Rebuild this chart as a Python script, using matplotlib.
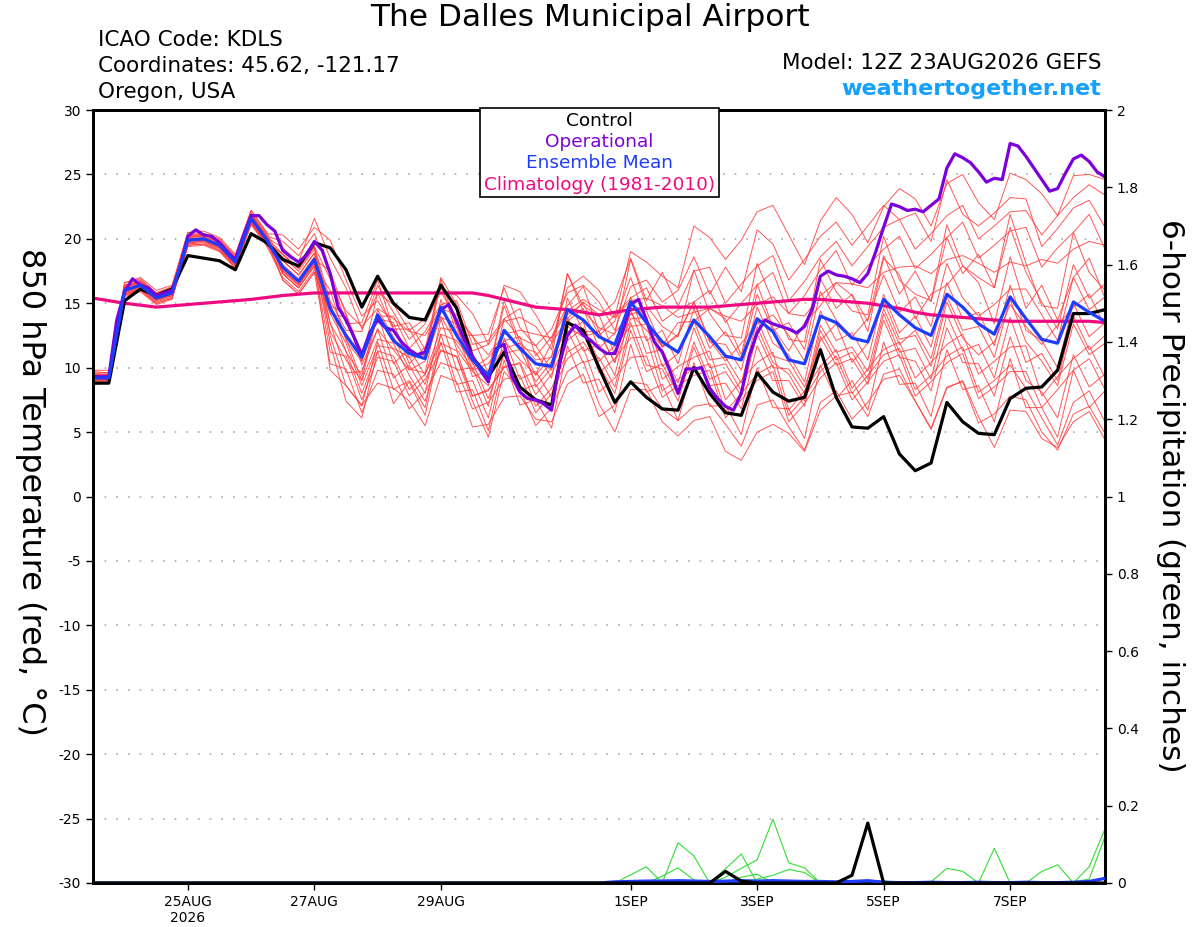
import matplotlib
matplotlib.use('Agg')
import matplotlib.pyplot as plt
from matplotlib.patches import Rectangle
import numpy as np
import pandas as pd

plt.rcParams['font.family'] = ['DejaVu Sans']

# 6-hourly GEFS times, operational run is 3-hourly
times = pd.date_range('2026-08-23 12:00', periods=65, freq='6h')
times_op = pd.date_range('2026-08-23 12:00', periods=129, freq='3h')

# 850 hPa temperature (C)
control = [8.8, 8.8, 15.2, 16.1, 15.6, 16.1, 18.7, 18.5, 18.3, 17.6,
           20.4, 19.7, 18.4, 17.9, 19.7, 19.3, 17.6, 14.7, 17.1, 15.0,
           13.9, 13.7, 16.4, 14.6, 10.8, 9.3, 11.2, 8.5, 7.5, 7.1,
           13.5, 12.9, 10.0, 7.3, 8.9, 7.7, 6.8, 6.7, 10.0, 8.0,
           6.5, 6.3, 9.6, 8.1, 7.4, 7.7, 11.4, 7.7, 5.4, 5.3,
           6.2, 3.3, 2.0, 2.6, 7.3, 5.8, 4.9, 4.8, 7.6, 8.4,
           8.5, 9.8, 14.2, 14.2, 14.5]

operational = [9.3, 9.3, 9.3, 13.7, 15.9, 16.9, 16.4, 16.2, 15.6, 15.8, 16.0, 17.8, 20.2, 20.7, 20.3, 20.2,
               19.7, 19.0, 18.4, 20.2, 21.8, 21.8, 21.1, 20.6, 19.1, 18.6, 18.2, 18.7, 19.8, 19.1, 17.3,
               14.7, 13.7, 12.4, 11.0, 12.7, 13.7, 13.1, 12.9, 12.0, 11.4, 11.0, 11.2, 12.9, 14.5, 14.9, 13.6,
               12.1, 10.9, 9.8, 8.9, 11.5, 11.8, 9.3, 8.1, 7.6, 7.5, 7.2, 6.7, 10.3, 12.5, 13.3, 12.5,
               12.1, 11.5, 11.1, 11.1, 12.8, 14.9, 15.3, 13.7, 12.0, 11.2, 9.7, 8.0, 9.9, 9.9, 10.0, 8.4,
               7.6, 7.0, 6.7, 8.0, 10.9, 12.7, 13.7, 13.4, 13.2, 13.0, 12.7, 13.2, 14.6, 17.1, 17.5, 17.2,
               17.1, 16.9, 16.6, 17.3, 19.0, 20.9, 22.7, 22.5, 22.2, 22.3, 22.1, 22.6, 23.1, 25.5, 26.6, 26.3,
               25.9, 25.2, 24.4, 24.7, 24.6, 27.4, 27.2, 26.4, 25.5, 24.6, 23.7, 23.9, 25.1, 26.2, 26.5, 26.0,
               25.2, 24.8]

ens_mean = [9.2, 9.2, 16.0, 16.4, 15.4, 15.8, 19.9, 20.0, 19.5, 18.2,
            21.6, 19.9, 17.8, 16.7, 18.4, 14.6, 12.5, 10.8, 14.1, 12.1,
            11.1, 10.7, 14.7, 12.5, 10.6, 9.4, 12.9, 11.5, 10.3, 10.1,
            14.5, 13.7, 12.4, 11.8, 15.1, 13.5, 12.0, 11.2, 13.7, 12.4,
            10.9, 10.6, 13.8, 12.8, 10.6, 10.3, 14.0, 13.5, 12.3, 12.0,
            15.3, 14.1, 13.1, 12.5, 15.7, 14.7, 13.4, 12.6, 15.5, 13.8,
            12.2, 11.9, 15.1, 14.3, 13.6]

climo = [15.4, 15.2, 15.0, 14.85, 14.7, 14.8, 14.9, 15.0, 15.1, 15.2,
         15.3, 15.45, 15.6, 15.7, 15.8, 15.8, 15.8, 15.8, 15.8, 15.8,
         15.8, 15.8, 15.8, 15.8, 15.8, 15.6, 15.3, 15.0, 14.7, 14.6,
         14.5, 14.3, 14.1, 14.3, 14.5, 14.6, 14.7, 14.7, 14.7, 14.7,
         14.8, 14.9, 15.0, 15.1, 15.2, 15.3, 15.3, 15.2, 15.1, 15.0,
         14.8, 14.6, 14.3, 14.1, 14.0, 13.9, 13.8, 13.7, 13.6, 13.6,
         13.6, 13.6, 13.6, 13.6, 13.5]

# ensemble members (red)
mem01 = [9.5, 9.4, 16.4, 16.6, 15.7, 16.2, 20.1, 20.4, 19.8, 18.4, 22.0, 20.1, 19.3, 18.2, 21.6,
         18.5, 16.2, 13.0, 15.8, 14.9, 12.9, 13.8, 16.1, 15.6, 14.2, 11.8, 16.4, 15.9, 14.1, 12.0, 16.2, 17.1,
         16.0, 13.9, 19.0, 18.2, 17.1, 16.2, 21.0, 20.1, 18.4, 19.9, 22.1, 22.6, 20.3, 18.0, 21.4, 23.2,
         21.9, 19.7, 22.5, 23.9, 23.1, 21.0, 24.3, 25.0, 22.8, 21.5, 25.1, 24.6, 23.5, 21.8, 24.9, 25.0, 24.6]
mem02 = [9.0, 9.1, 15.7, 16.1, 15.3, 15.6, 19.6, 19.9, 19.3, 18.0, 21.3, 19.8, 18.8, 17.7, 19.4,
         15.2, 12.9, 12.8, 16.4, 14.3, 12.2, 13.4, 15.9, 13.8, 12.5, 12.6, 16.2, 13.1, 11.7, 13.0, 15.8, 16.4,
         15.1, 12.9, 16.3, 16.8, 15.1, 16.0, 18.6, 15.7, 17.8, 15.9, 20.7, 19.6, 16.8, 18.4, 20.2, 21.3,
         19.5, 21.0, 22.6, 21.5, 22.0, 19.8, 24.6, 21.9, 21.0, 22.0, 23.2, 23.1, 19.4, 20.8, 22.4, 23.0, 20.9]
mem03 = [9.7, 9.6, 16.6, 16.9, 15.8, 16.3, 20.5, 20.4, 20.0, 18.7, 22.2, 20.4, 20.3, 19.2, 20.9,
         19.9, 16.8, 14.0, 15.2, 13.2, 13.5, 11.4, 17.0, 14.9, 11.3, 11.8, 13.6, 13.9, 13.2, 11.4, 17.3, 14.8,
         14.0, 15.1, 18.5, 15.2, 17.4, 14.8, 17.5, 17.8, 15.0, 16.5, 17.9, 18.7, 15.2, 16.7, 18.6, 19.8,
         17.9, 19.4, 20.9, 21.5, 19.2, 20.4, 21.8, 22.6, 20.0, 21.0, 22.1, 22.2, 20.3, 21.8, 23.2, 24.2, 23.4]
mem04 = [9.2, 9.3, 16.1, 16.3, 15.5, 15.7, 19.8, 20.1, 19.4, 18.3, 21.5, 20.0, 18.3, 17.2, 18.9,
         14.8, 14.2, 11.0, 14.0, 14.0, 11.5, 12.8, 14.9, 15.2, 11.8, 12.1, 13.8, 14.6, 10.9, 12.4, 14.8, 16.3,
         12.8, 14.1, 15.4, 16.2, 13.6, 14.5, 15.1, 16.0, 13.5, 15.0, 16.4, 17.4, 14.2, 15.6, 17.6, 19.1,
         16.4, 17.9, 19.2, 20.2, 17.7, 18.8, 20.1, 21.3, 18.5, 19.5, 20.6, 20.9, 17.8, 19.3, 20.5, 21.9, 19.2]
mem05 = [8.9, 8.8, 15.6, 16.0, 15.0, 15.4, 19.5, 19.6, 19.1, 17.8, 21.2, 19.5, 17.3, 16.2, 17.9,
         16.0, 12.1, 10.5, 15.8, 12.9, 10.8, 11.0, 16.9, 13.1, 10.3, 9.6, 15.2, 12.0, 10.6, 10.8, 17.3, 14.4,
         13.1, 12.6, 18.4, 14.8, 13.2, 12.4, 17.6, 14.2, 12.5, 12.3, 18.1, 15.1, 12.2, 12.0, 18.4, 15.9,
         14.4, 14.1, 20.2, 16.8, 15.7, 15.2, 21.1, 17.9, 17.0, 16.2, 21.9, 18.1, 14.8, 14.6, 20.5, 17.4, 16.0]
mem06 = [9.4, 9.4, 16.2, 16.6, 15.6, 16.0, 20.1, 20.2, 19.7, 18.4, 21.8, 20.1, 18.8, 17.7, 19.4,
         16.9, 14.4, 13.2, 14.6, 13.8, 12.8, 12.5, 14.6, 14.1, 12.4, 11.0, 12.6, 12.9, 12.6, 12.3, 14.4, 15.3,
         14.5, 13.9, 15.2, 15.4, 14.8, 13.9, 14.3, 14.6, 14.0, 13.6, 14.9, 15.5, 14.2, 14.0, 15.6, 16.6,
         16.5, 16.2, 17.4, 17.8, 17.9, 17.3, 18.4, 18.7, 18.1, 17.4, 18.2, 17.9, 18.4, 18.1, 19.2, 19.8, 19.5]
mem07 = [9.8, 9.8, 16.6, 17.0, 16.0, 16.4, 20.5, 20.6, 20.1, 18.8, 22.2, 20.5, 17.8, 16.7, 18.4,
         17.5, 14.1, 10.2, 13.0, 11.4, 9.8, 10.5, 14.0, 11.8, 9.9, 10.8, 12.1, 10.6, 9.5, 11.9, 13.8, 15.1,
         14.1, 11.0, 14.2, 12.9, 11.7, 13.5, 13.6, 14.6, 13.8, 11.0, 16.5, 13.1, 11.3, 13.5, 14.8, 16.6,
         15.6, 12.8, 18.5, 17.2, 13.8, 15.7, 16.4, 17.9, 16.6, 13.4, 18.6, 14.6, 16.4, 13.7, 17.0, 18.5, 15.4]
mem08 = [8.7, 8.8, 15.5, 15.9, 14.9, 15.3, 19.4, 19.5, 19.0, 17.7, 21.1, 19.4, 17.0, 15.9, 17.6,
         15.0, 11.2, 9.4, 14.5, 12.4, 9.9, 9.6, 15.3, 11.4, 9.7, 8.6, 13.8, 12.3, 11.7, 9.8, 14.1, 15.0,
         12.5, 13.6, 17.0, 13.7, 11.6, 12.5, 15.1, 12.1, 10.5, 11.9, 13.4, 14.1, 12.5, 10.5, 15.9, 13.7,
         12.4, 13.8, 17.2, 14.3, 15.5, 13.2, 18.1, 15.4, 14.0, 14.9, 16.1, 16.1, 14.1, 12.1, 17.0, 14.5, 15.5]
mem09 = [9.5, 9.5, 16.3, 16.7, 15.7, 16.1, 20.2, 20.3, 19.8, 18.5, 21.9, 20.2, 17.3, 16.2, 17.9,
         12.8, 10.6, 9.0, 14.2, 10.3, 11.5, 9.4, 13.1, 12.8, 9.3, 9.8, 11.5, 11.9, 9.4, 10.9, 13.6, 14.6,
         11.5, 12.7, 14.2, 14.4, 11.6, 12.6, 15.1, 12.0, 11.8, 9.8, 14.7, 11.9, 11.0, 8.9, 14.4, 12.1,
         12.7, 10.6, 15.7, 12.7, 14.0, 11.6, 16.6, 13.8, 14.3, 11.7, 16.4, 12.9, 12.1, 10.0, 15.0, 12.4, 13.5]
mem10 = [9.1, 9.1, 15.9, 16.3, 15.3, 15.7, 19.8, 19.9, 19.4, 18.1, 21.5, 19.8, 16.8, 15.7, 17.4,
         14.2, 11.9, 8.6, 11.7, 11.5, 10.8, 8.7, 12.6, 12.1, 10.4, 7.6, 11.1, 11.4, 8.9, 10.5, 13.2, 12.4,
         12.8, 10.4, 13.8, 13.9, 10.1, 11.1, 13.6, 10.6, 10.8, 8.8, 13.7, 10.9, 10.5, 8.5, 12.1, 13.4,
         10.4, 11.9, 15.2, 12.2, 12.5, 10.1, 15.1, 12.3, 11.0, 12.0, 14.9, 13.2, 11.8, 13.3, 14.7, 15.7, 13.2]
mem11 = [8.9, 8.9, 15.7, 16.1, 15.1, 15.5, 19.6, 19.7, 19.2, 17.9, 21.3, 19.6, 18.3, 17.2, 18.9,
         13.5, 9.6, 9.7, 13.0, 9.2, 10.2, 8.0, 13.8, 9.8, 10.0, 7.0, 12.3, 9.1, 9.7, 7.7, 13.9, 11.3,
         11.8, 9.4, 14.5, 11.1, 11.4, 8.8, 13.1, 10.0, 10.3, 8.2, 13.2, 10.4, 9.5, 7.4, 12.9, 10.6,
         11.2, 9.1, 14.2, 11.2, 11.5, 9.1, 14.1, 11.3, 11.8, 9.2, 13.9, 10.4, 11.1, 9.0, 14.0, 11.4, 12.5]
mem12 = [9.6, 9.6, 16.4, 16.8, 15.8, 16.2, 20.3, 20.4, 19.9, 18.6, 22.0, 20.3, 17.3, 16.2, 17.9,
         11.2, 10.9, 7.5, 10.8, 10.5, 7.8, 9.1, 11.3, 10.9, 7.8, 8.3, 10.0, 10.4, 7.9, 9.5, 12.1, 13.1,
         10.5, 11.7, 13.2, 13.4, 9.1, 10.1, 10.8, 11.3, 7.5, 9.0, 10.4, 11.2, 6.7, 8.2, 10.1, 11.4,
         8.4, 9.9, 11.4, 12.0, 9.2, 10.4, 11.8, 12.6, 9.5, 10.5, 11.6, 11.7, 7.8, 9.3, 10.7, 11.7, 9.2]
mem13 = [9.0, 9.0, 15.8, 16.2, 15.2, 15.6, 19.7, 19.8, 19.3, 18.0, 21.4, 19.7, 18.8, 17.7, 19.4,
         12.5, 8.6, 7.0, 12.0, 8.3, 9.0, 6.9, 12.6, 8.7, 9.0, 6.1, 11.3, 8.2, 8.7, 6.8, 12.9, 10.4,
         10.8, 8.5, 13.5, 10.2, 9.9, 7.4, 11.6, 8.6, 8.8, 6.8, 11.7, 9.0, 9.0, 7.0, 12.4, 10.2,
         10.7, 8.7, 13.7, 10.8, 10.5, 8.2, 13.1, 10.4, 10.3, 7.8, 12.4, 9.0, 8.1, 6.1, 11.0, 8.5, 9.5]
mem14 = [9.3, 9.3, 16.1, 16.5, 15.5, 15.9, 20.0, 20.1, 19.6, 18.3, 21.7, 20.0, 16.8, 15.7, 17.4,
         10.3, 9.9, 6.5, 9.8, 9.5, 6.8, 8.1, 10.4, 9.9, 6.8, 7.3, 9.1, 9.4, 6.5, 8.0, 10.7, 11.6,
         8.1, 9.2, 10.8, 10.9, 7.7, 8.6, 9.4, 9.8, 6.1, 7.5, 9.0, 9.7, 5.8, 7.2, 9.2, 10.4,
         7.5, 8.9, 10.5, 11.0, 7.8, 8.9, 10.4, 11.1, 7.6, 8.5, 9.7, 9.7, 6.9, 8.3, 9.8, 10.7, 8.3]
mem15 = [9.1, 9.1, 15.9, 16.3, 15.3, 15.7, 19.8, 19.9, 19.4, 18.1, 21.5, 19.8, 18.0, 16.9, 18.6,
         11.9, 7.4, 6.1, 11.3, 7.2, 8.9, 6.3, 12.0, 8.1, 8.3, 5.1, 10.6, 7.1, 7.5, 5.3, 11.7, 8.8,
         9.1, 6.5, 11.8, 8.1, 8.7, 5.9, 10.4, 7.0, 7.1, 4.8, 10.0, 6.9, 6.8, 4.5, 10.2, 7.6,
         9.0, 6.7, 12.0, 8.7, 8.8, 6.2, 11.4, 8.3, 8.6, 5.8, 10.7, 6.9, 6.9, 4.6, 9.8, 6.9, 8.2]
mem16 = [9.4, 9.4, 16.2, 16.6, 15.6, 16.0, 20.1, 20.2, 19.7, 18.4, 21.8, 20.1, 17.5, 16.4, 18.1,
         9.8, 8.6, 7.1, 8.8, 8.4, 7.4, 5.5, 9.4, 8.9, 5.4, 5.6, 7.7, 7.8, 6.0, 5.8, 8.7, 9.5,
         6.2, 7.1, 8.9, 8.7, 6.8, 5.9, 7.0, 7.2, 5.6, 3.9, 7.1, 7.5, 5.4, 3.6, 7.3, 8.2,
         6.0, 7.3, 9.1, 9.4, 7.4, 5.3, 8.5, 8.9, 5.7, 6.4, 7.8, 7.5, 5.0, 3.6, 6.4, 7.0, 4.9]
mem17 = [8.8, 8.8, 15.6, 16.0, 15.0, 15.4, 19.5, 19.6, 19.1, 17.8, 21.2, 19.5, 18.6, 17.5, 19.2,
         14.8, 12.3, 9.0, 12.2, 11.9, 9.4, 7.4, 11.4, 10.8, 7.4, 4.6, 9.7, 8.3, 5.5, 6.9, 9.7, 10.5,
         7.2, 5.0, 8.3, 8.3, 5.8, 4.7, 5.9, 6.2, 3.5, 2.8, 5.0, 5.6, 4.9, 3.5, 6.7, 7.8,
         8.1, 6.2, 9.5, 9.9, 7.4, 5.2, 8.4, 9.0, 6.2, 3.8, 6.7, 6.6, 4.5, 3.8, 5.8, 6.6, 4.4]
mem18 = [9.2, 9.2, 16.0, 16.4, 15.4, 15.8, 19.9, 20.0, 19.5, 18.2, 21.6, 19.9, 17.5, 16.4, 18.1,
         14.2, 13.9, 10.5, 13.8, 13.5, 10.3, 11.6, 13.9, 13.4, 9.8, 10.3, 12.1, 12.4, 8.5, 10.0, 12.7, 13.6,
         9.6, 10.7, 12.3, 12.4, 8.2, 9.1, 9.9, 10.3, 6.6, 8.0, 9.5, 10.2, 6.3, 7.7, 9.7, 10.9,
         8.0, 9.4, 11.0, 11.5, 8.3, 9.4, 10.9, 11.6, 8.1, 9.0, 10.2, 8.4, 6.1, 4.0, 7.3, 8.2, 5.8]
mem19 = [9.5, 9.5, 16.3, 16.7, 15.7, 16.1, 20.2, 20.3, 19.8, 18.5, 21.9, 20.2, 19.8, 18.7, 20.4,
         17.3, 13.4, 13.5, 16.8, 13.0, 13.0, 10.8, 16.6, 12.6, 12.5, 9.5, 14.8, 11.6, 11.2, 9.2, 15.4, 12.8,
         12.8, 10.4, 15.5, 12.1, 12.9, 10.3, 14.6, 11.5, 12.8, 10.7, 15.7, 12.9, 13.5, 11.4, 16.9, 14.6,
         15.7, 13.6, 18.7, 15.7, 17.5, 15.1, 20.1, 17.3, 18.8, 16.2, 20.9, 17.4, 15.1, 13.0, 18.0, 15.4, 16.5]
mem20 = [9.0, 9.0, 15.8, 16.2, 15.2, 15.6, 19.7, 19.8, 19.3, 18.0, 21.4, 19.7, 17.6, 16.5, 18.2,
         13.4, 11.3, 8.0, 11.3, 10.9, 8.3, 9.5, 11.9, 11.3, 7.8, 8.2, 10.1, 10.3, 7.0, 8.4, 11.2, 12.0,
         10.2, 8.0, 12.9, 9.7, 10.3, 7.9, 12.0, 9.1, 9.7, 7.8, 12.6, 10.0, 9.9, 8.0, 13.3, 11.2,
         11.6, 9.7, 14.6, 11.8, 12.9, 10.7, 15.5, 12.9, 13.2, 10.8, 15.3, 12.0, 10.5, 8.6, 13.4, 11.0, 11.9]
members = [mem01, mem02, mem03, mem04, mem05, mem06, mem07, mem08, mem09, mem10,
           mem11, mem12, mem13, mem14, mem15, mem16, mem17, mem18, mem19, mem20]

# 6-hour precipitation (inches); dry until 1SEP 06Z, lists start at index 33
dry = [0.0] * 33
pcp_control = [0, 0, 0, 0, 0, 0, 0, 0.03, 0.005, 0, 0, 0, 0, 0, 0, 0.02,
               0.155, 0, 0, 0, 0, 0, 0, 0, 0, 0, 0, 0, 0, 0, 0, 0]
pcp_mean = [0.003, 0.004, 0.005, 0.005, 0.006, 0.005, 0.004, 0.005, 0.006, 0.005, 0.006, 0.005, 0.004, 0.004, 0.003, 0.004,
            0.006, 0.002, 0.001, 0.001, 0.002, 0.001, 0.001, 0.002, 0.001, 0.001, 0.002, 0.001, 0.001, 0.002, 0.004, 0.012]
pcp_mem01 = [0, 0.021, 0.042, 0, 0.104, 0.07, 0, 0, 0, 0, 0, 0, 0, 0, 0, 0,
             0, 0, 0, 0, 0, 0, 0, 0, 0, 0, 0, 0, 0, 0, 0, 0]
pcp_mem02 = [0, 0, 0, 0.018, 0.039, 0.008, 0, 0, 0, 0, 0, 0, 0, 0, 0, 0,
             0, 0, 0, 0, 0, 0, 0, 0, 0, 0, 0, 0, 0, 0, 0, 0]
pcp_mem03 = [0, 0, 0, 0, 0, 0, 0, 0.037, 0.075, 0, 0, 0, 0, 0, 0, 0,
             0, 0, 0, 0, 0, 0, 0, 0, 0, 0, 0, 0, 0, 0, 0, 0]
pcp_mem04 = [0, 0, 0, 0, 0, 0, 0, 0.015, 0.038, 0.06, 0.165, 0.052, 0.039, 0, 0, 0,
             0, 0, 0, 0, 0, 0, 0, 0, 0, 0, 0, 0, 0, 0, 0, 0]
pcp_mem05 = [0, 0, 0, 0, 0, 0, 0, 0, 0.015, 0.023, 0, 0, 0, 0, 0, 0,
             0, 0, 0, 0, 0, 0, 0, 0, 0, 0, 0, 0, 0, 0, 0, 0]
pcp_mem06 = [0, 0, 0, 0, 0, 0, 0, 0, 0, 0.01, 0.02, 0.035, 0.027, 0, 0, 0,
             0, 0, 0, 0, 0, 0, 0, 0, 0, 0, 0, 0, 0, 0, 0, 0]
pcp_mem07 = [0, 0, 0, 0, 0, 0, 0, 0, 0, 0, 0, 0, 0, 0, 0, 0,
             0, 0, 0, 0, 0.003, 0.038, 0.03, 0, 0, 0, 0, 0, 0, 0, 0, 0]
pcp_mem08 = [0, 0, 0, 0, 0, 0, 0, 0, 0, 0, 0, 0, 0, 0, 0, 0,
             0, 0, 0, 0, 0, 0, 0, 0, 0.09, 0, 0, 0, 0, 0, 0, 0]
pcp_mem09 = [0, 0, 0, 0, 0, 0, 0, 0, 0, 0, 0, 0, 0, 0, 0, 0,
             0, 0, 0, 0, 0, 0, 0, 0, 0, 0, 0, 0.03, 0.047, 0, 0.042, 0.14]
pcp_mem10 = [0, 0, 0, 0, 0, 0, 0, 0, 0, 0, 0, 0, 0, 0, 0.003, 0,
             0.005, 0.006, 0, 0, 0, 0, 0, 0, 0, 0, 0, 0, 0, 0.003, 0.01, 0.12]
pcp_members = [pcp_mem01, pcp_mem02, pcp_mem03, pcp_mem04, pcp_mem05,
               pcp_mem06, pcp_mem07, pcp_mem08, pcp_mem09, pcp_mem10]

tick_dates = ['2026-08-25', '2026-08-27', '2026-08-29', '2026-09-01',
              '2026-09-03', '2026-09-05', '2026-09-07']
tick_labels = ['25AUG\n2026', '27AUG', '29AUG', '1SEP', '3SEP', '5SEP', '7SEP']

c_red = '#ff3a3a'
c_green = '#33dd33'
c_purple = '#7c00dc'
c_blue = '#1e3cff'
c_pink = '#ee0a80'

fig = plt.figure(figsize=(12, 9.27), dpi=100)
ax = fig.add_axes([93 / 1200, 1 - 883 / 927, (1105 - 93) / 1200, (883 - 110) / 927])
ax2 = ax.twinx()

for m in members:
    ax.plot(times, m, color=c_red, lw=0.7, alpha=0.85, zorder=2)
ax.plot(times, climo, color=c_pink, lw=2.3, zorder=3)
ax.plot(times, control, color='black', lw=2.3, zorder=4)
ax.plot(times_op, operational, color=c_purple, lw=2.3, zorder=5)
ax.plot(times, ens_mean, color=c_blue, lw=2.3, zorder=6)

for p in pcp_members:
    ax2.plot(times, dry + p, color=c_green, lw=0.8, zorder=2)
ax2.plot(times, dry + pcp_mean, color=c_blue, lw=2.3, zorder=3)
ax2.plot(times, dry + pcp_control, color='black', lw=2.3, zorder=4)

ax.set_xlim(times[0], times[-1])
ax.set_ylim(-30, 30)
ax.set_yticks(np.arange(-30, 31, 5))
ax.set_yticklabels([str(v) for v in range(-30, 31, 5)])
ax.grid(axis='y', ls=(0, (1, 6)), color='#aaaaaa', lw=1.2)
ax.set_xticks(pd.to_datetime(tick_dates))
ax.set_xticklabels(tick_labels)

ax2.set_ylim(0, 2)
pcp_ticks = np.arange(0, 2.01, 0.2)
ax2.set_yticks(pcp_ticks)
ax2.set_yticklabels(['{:g}'.format(round(v, 1)) for v in pcp_ticks])

for a in (ax, ax2):
    a.tick_params(direction='out', length=5, width=1, labelsize=10)
    for s in a.spines.values():
        s.set_linewidth(2)

# headers
fig.text(590 / 1200, 1 - 18 / 927, 'The Dalles Municipal Airport', fontsize=22.5,
         ha='center', va='center')
fig.text(98 / 1200, 1 - 40 / 927, 'ICAO Code: KDLS', fontsize=15.5, va='center')
fig.text(98 / 1200, 1 - 66 / 927, 'Coordinates: 45.62, -121.17', fontsize=15.5, va='center')
fig.text(98 / 1200, 1 - 92 / 927, 'Oregon, USA', fontsize=15.5, va='center')
fig.text(1101 / 1200, 1 - 63 / 927, 'Model: 12Z 23AUG2026 GEFS', fontsize=15.5,
         ha='right', va='center')
fig.text(1101 / 1200, 1 - 89 / 927, 'weathertogether.net', fontsize=16, fontweight='bold',
         color='#14a0ff', ha='right', va='center')

# axis titles
fig.text(30 / 1200, 1 - 492 / 927, '850 hPa Temperature (red, °C)', fontsize=23,
         rotation=-90, ha='center', va='center')
fig.text(1170 / 1200, 1 - 496 / 927, '6-hour Precipitation (green, inches)', fontsize=22.5,
         rotation=-90, ha='center', va='center')

# legend box
fig.add_artist(Rectangle((480 / 1200, 1 - 197 / 927), 239 / 1200, 89 / 927,
                         transform=fig.transFigure, fc='white', ec='black', lw=1.2, zorder=5))
legend_items = [('Control', 'black', 121), ('Operational', c_purple, 142),
                ('Ensemble Mean', c_blue, 163), ('Climatology (1981-2010)', c_pink, 185)]
for label, col, ypix in legend_items:
    fig.text(599.5 / 1200, 1 - ypix / 927, label, color=col, fontsize=13.3,
             ha='center', va='center', zorder=6)

fig.savefig('out.png', dpi=100)
